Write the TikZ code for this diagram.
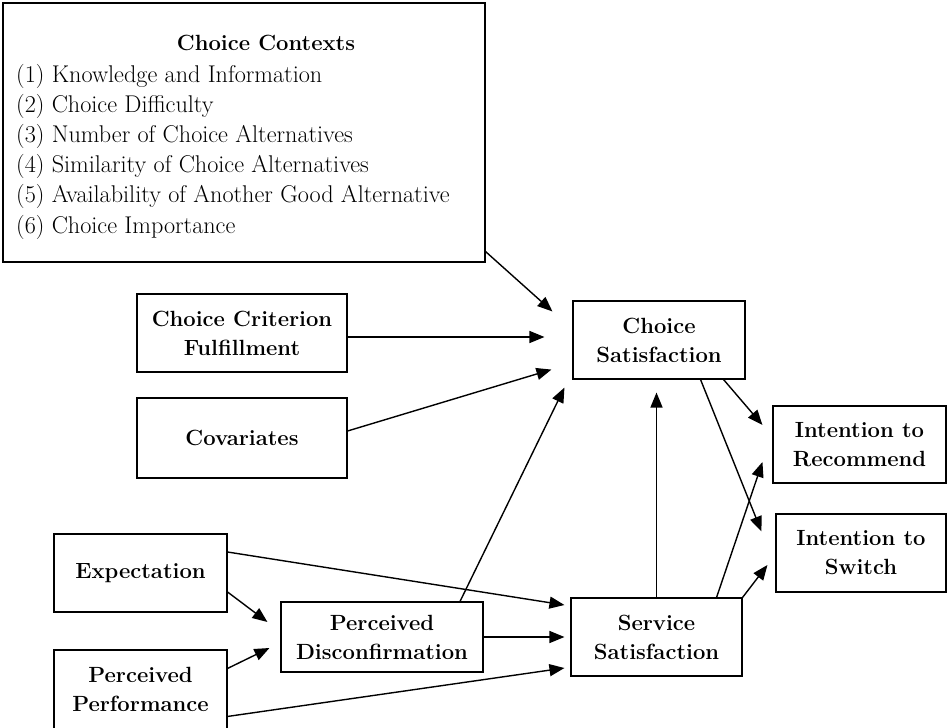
\documentclass[tikz,border=0pt]{standalone}
\usetikzlibrary{arrows.meta,calc}
\begin{document}
\begin{tikzpicture}[x=1pt,y=-1pt,
  box/.style={draw, line width=1.1pt, inner sep=0pt, align=center, font=\fontsize{22}{29}\selectfont\bfseries},
  lbl/.style={inner sep=0pt, align=center, font=\fontsize{22}{29}\selectfont\bfseries},
  arr/.style={line width=1.4pt, -{Triangle[length=15pt,width=12pt]}},
  itemtxt/.style={anchor=base west, inner sep=0pt, font=\fontsize{24.2}{28}\selectfont}]
\useasboundingbox (0,0) rectangle (948,728);
\fill[white] (0,0) rectangle (948,728);

% Choice contexts box
\node[box, minimum width=482pt, minimum height=259pt] (cc) at (244,132.5) {};
\node[lbl] (cctitle) at (266,43) {Choice Contexts};
\node[itemtxt] (i1) at (16,82) {(1) Knowledge and Information};
\node[itemtxt] (i2) at (16,112.2) {(2) Choice Difficulty};
\node[itemtxt] (i3) at (16,142.4) {(3) Number of Choice Alternatives};
\node[itemtxt] (i4) at (16,172.6) {(4) Similarity of Choice Alternatives};
\node[itemtxt] (i5) at (16,202.8) {(5) Availability of Another Good Alternative};
\node[itemtxt] (i6) at (16,233) {(6) Choice Importance};

% other boxes
\node[box, minimum width=210pt, minimum height=78pt] (ccf) at (242,333) {Choice Criterion\\Fulfillment};
\node[box, minimum width=210pt, minimum height=80pt] (cov) at (242,438) {Covariates};
\node[box, minimum width=172pt, minimum height=78pt] (cs) at (659,340) {Choice\\Satisfaction};
\node[box, minimum width=173pt, minimum height=77pt] (ir) at (859.5,444.5) {Intention to\\Recommend};
\node[box, minimum width=170pt, minimum height=78pt] (is) at (861,553) {Intention to\\Switch};
\node[box, minimum width=173pt, minimum height=78pt] (exp) at (140.5,573) {Expectation};
\node[box, minimum width=202pt, minimum height=70pt] (pd) at (382,637) {Perceived\\Disconfirmation};
\node[box, minimum width=173pt, minimum height=90pt] (pp) at (140.5,695) {};
\node[lbl] (pptext) at (140.5,689) {Perceived\\Performance};
\node[box, minimum width=171pt, minimum height=78pt] (ss) at (656.5,637) {Service\\Satisfaction};

% connectors
\draw[arr] ($(cc.south east)+(0,-11)$) -- ($(cs.north west)+(-20,11)$);
\draw[arr] ($(ccf.east)+(0,4)$) -- ($(cs.west)+(-28,-3)$);
\draw[arr] ($(cov.east)+(0,-7)$) -- ($(cs.south west)+(-21,-10)$);
\draw[arr] ($(pd.north)+(78,0)$) -- ($(cs.south west)+(-8,8)$);
\draw[arr] (ss.north) -- ($(ss.north |- cs.south)+(0,13)$);
\draw[arr] ($(cs.south east)+(-22,0)$) -- ($(ir.west)+(-10,-19.5)$);
\draw[arr] ($(cs.south east)+(-45,0)$) -- ($(is.north west)+(-14,18)$);
\draw[arr] ($(ss.north east)+(-26,0)$) -- ($(ir.west)+(-10,17.5)$);
\draw[arr] (ss.north east) -- ($(is.west)+(-8,12)$);
\draw[arr] ($(exp.east)+(0,-21)$) -- ($(ss.west)+(-6,-32)$);
\draw[arr] ($(exp.east)+(0,19)$) -- ($(pd.west)+(-13,-15)$);
\draw[arr] ($(pp.north east)+(0,19)$) -- ($(pd.west)+(-11,11)$);
\draw[arr] ($(pp.north east)+(0,67)$) -- ($(ss.west)+(-6,31)$);
\draw[arr] (pd.east) -- ($(ss.west)+(-6,0)$);
\end{tikzpicture}
\end{document}
